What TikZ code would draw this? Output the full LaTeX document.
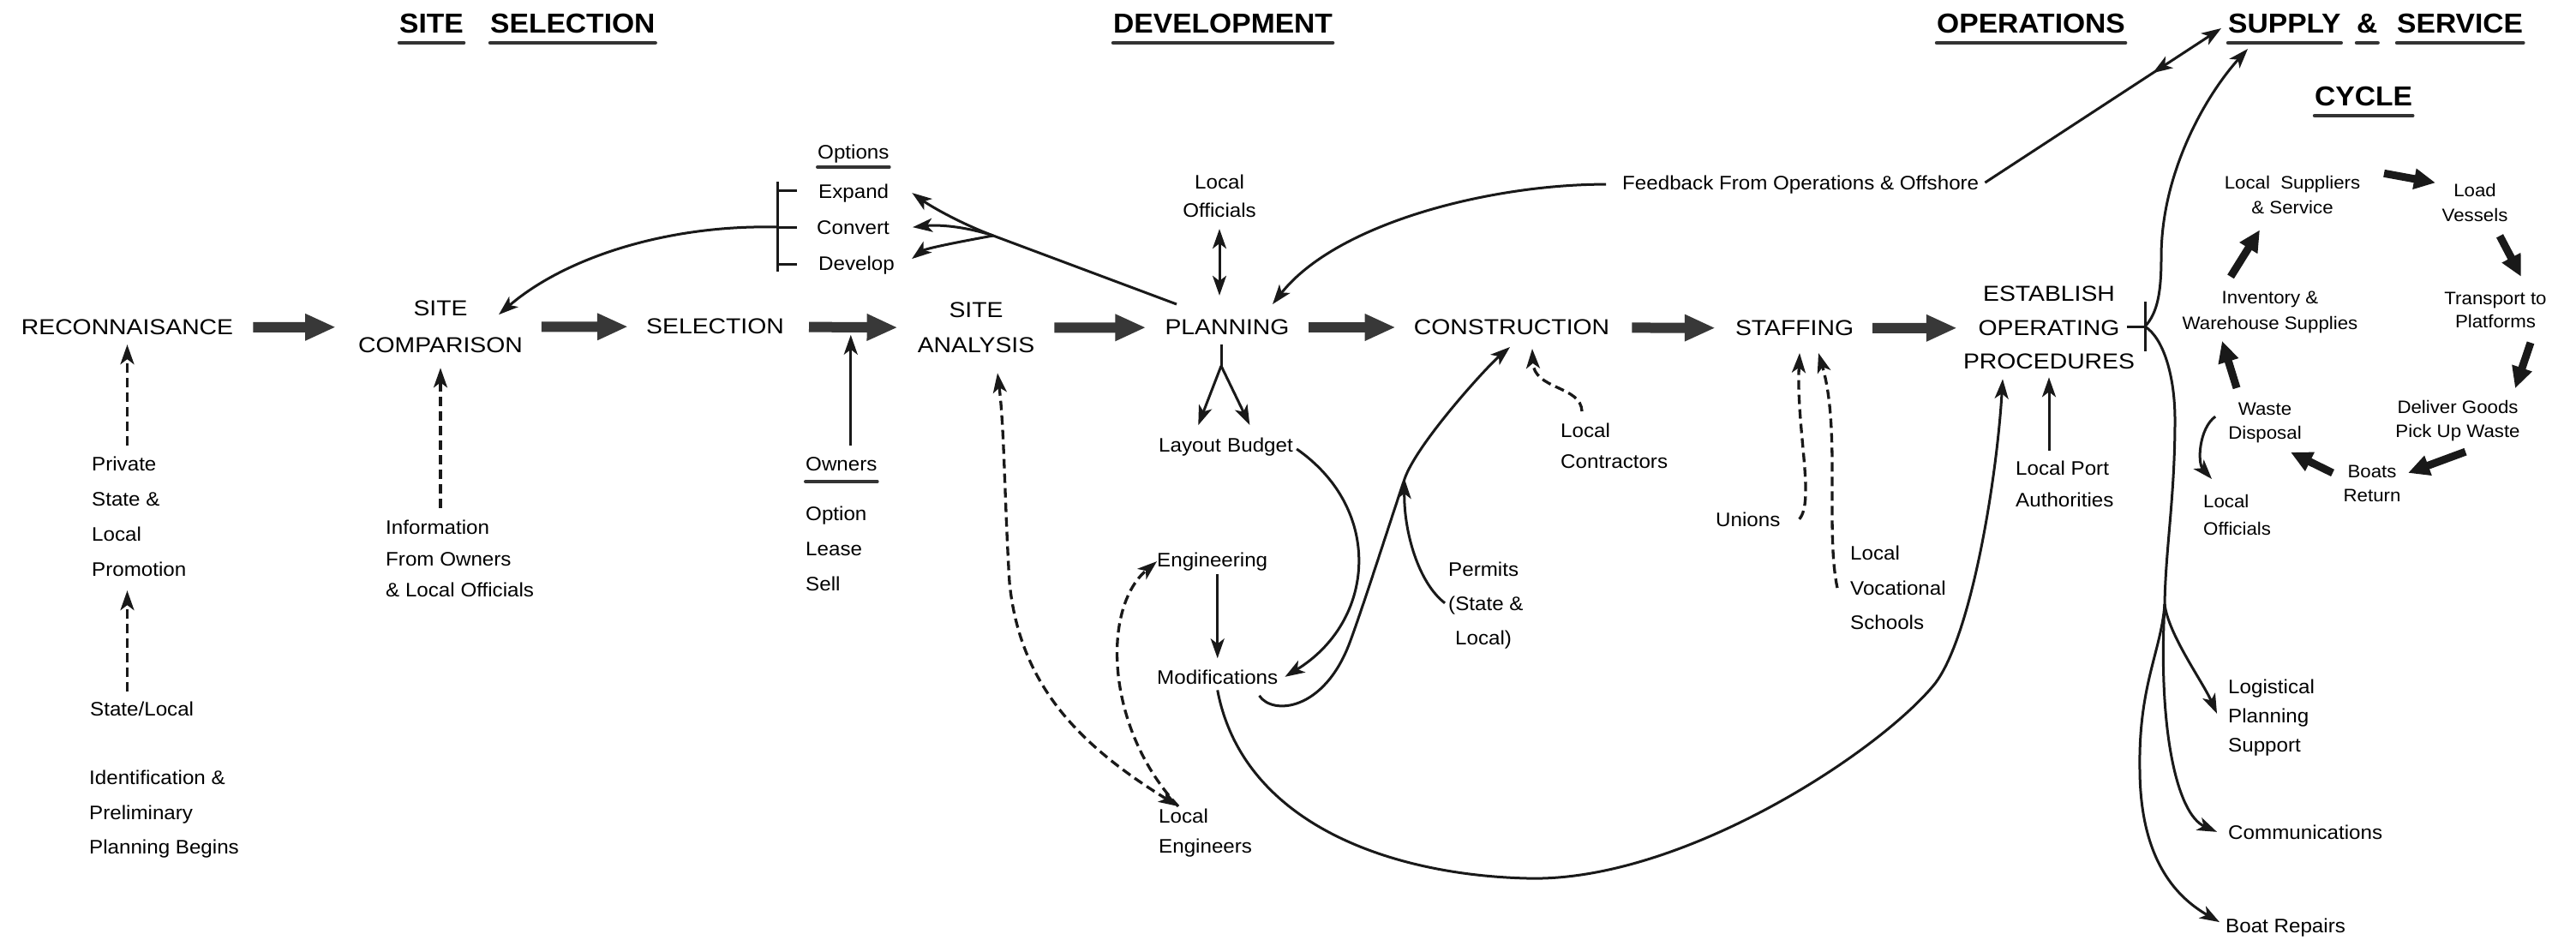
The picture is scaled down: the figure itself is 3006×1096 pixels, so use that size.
\documentclass[tikz,border=0pt]{standalone}
\usepackage{fontspec}
\setmainfont{Liberation Sans}[FakeStretch=1.06]
\newfontfamily\capsf{Liberation Sans}[FakeStretch=1.12]
\newfontfamily\titlef{Liberation Sans}[FakeStretch=1.05]
\usetikzlibrary{arrows.meta,calc,decorations.markings}
\begin{document}
\begin{tikzpicture}[x=1pt,y=1pt,
  >={Stealth[length=23pt,width=16pt,inset=6pt]},
  ln/.style={line width=3pt, draw=black!90},
  arr/.style={ln, ->},
  darr/.style={ln, <->},
  dsh/.style={ln, line width=3.3pt, dash pattern=on 11pt off 6pt},
  fat/.style={line width=12pt, draw=black!78, -{Triangle[length=36pt,width=29pt]}},
  cyc/.style={line width=9pt, draw=black!90, -{Triangle[length=25pt,width=23pt]}},
  uline/.style={line width=4.5pt, line cap=round, draw=black!80},
  capsn/.style={font=\capsf\fontsize{25.3pt}{#1}\selectfont, inner sep=0pt, align=center},
  capsn/.default=40pt,
  sm/.style={font=\fontsize{22.8pt}{#1}\selectfont, inner sep=0pt, align=left},
  sm/.default=40pt,
  cy/.style={font=\fontsize{21pt}{#1}\selectfont, inner sep=0pt, align=center},
  cy/.default=28pt,
  ttl/.style={font=\titlef\bfseries\fontsize{32pt}{36pt}\selectfont, inner sep=0pt, anchor=base west}
]
\fill[white] (0,0) rectangle (3006,-1096);
\useasboundingbox (0,0) rectangle (3006,-1096);

% titles
\node[ttl] (tSite) at (466,-38.5) {SITE};
\node[ttl] (tSel) at (572,-38.5) {SELECTION};
\node[ttl] (tDev) at (1299,-38.5) {DEVELOPMENT};
\node[ttl] (tOps) at (2260,-38.5) {OPERATIONS};
\node[ttl] (tSup) at (2600,-38.5) {SUPPLY};
\node[ttl] (tAmp) at (2750,-38.5) {\&};
\node[ttl] (tSer) at (2797,-38.5) {SERVICE};
\node[ttl] (tCyc) at (2701,-123.5) {CYCLE};
\foreach \t in {tSite,tSel,tDev,tOps,tSup,tAmp,tSer,tCyc}
  \draw[uline] ([yshift=-11.5pt]\t.base west) -- ([yshift=-11.5pt]\t.base east);

% main stages
\node[capsn] (reco) at (148.5,-382) {RECONNAISANCE};
\node[capsn=43pt, anchor=north] (comp) at (514,-351) {SITE\\COMPARISON};
\node[capsn] (sel) at (834.5,-381) {SELECTION};
\node[capsn=41pt, anchor=north] (ana) at (1139,-353) {SITE\\ANALYSIS};
\node[capsn] (plan) at (1432,-382) {PLANNING};
\node[capsn] (cons) at (1764,-382) {CONSTRUCTION};
\node[capsn] (staff) at (2094,-383) {STAFFING};
\node[capsn=39.5pt, anchor=north] (est) at (2391,-334) {ESTABLISH\\OPERATING\\PROCEDURES};

% small labels
\node[sm=41pt, anchor=north west] (priv) at (107,-533) {Private\\State \&\\Local\\Promotion};
\node[sm, anchor=base west] (stl) at (105,-835) {State/Local};
\node[sm=40.5pt, anchor=north west] (ident) at (104,-899) {Identification \&\\Preliminary\\Planning Begins};
\node[sm=36.5pt, anchor=north west] (info) at (450,-607) {Information\\From Owners\\\& Local Officials};
\node[sm, anchor=base west] (owners) at (940,-549) {Owners};
\node[sm=41pt, anchor=north west] (opt) at (940,-591) {Option\\Lease\\Sell};
\node[sm, anchor=base west] (options) at (954,-185) {Options};
\node[sm, anchor=base west] (expand) at (955,-231) {Expand};
\node[sm, anchor=base west] (convert) at (953,-273) {Convert};
\node[sm, anchor=base west] (develop) at (955,-315) {Develop};
\node[sm=33pt, anchor=north, align=center] (locoff) at (1423,-204) {Local\\Officials};
\node[sm, anchor=base west] (lay) at (1352,-527) {Layout};
\node[sm, anchor=base west] (bud) at (1432,-527) {Budget};
\node[sm, anchor=base west] (eng) at (1350,-661) {Engineering};
\node[sm, anchor=base west] (mod) at (1350,-798) {Modifications};
\node[sm=35pt, anchor=north west] (loceng) at (1352,-944) {Local\\Engineers};
\node[sm=40pt, anchor=north west] (permits) at (1690,-656) {Permits\\(State \&\\\hspace*{8pt}Local)};
\node[sm=36pt, anchor=north west] (loccon) at (1821,-494) {Local\\Contractors};
\node[sm, anchor=base west] (unions) at (2002,-614) {Unions};
\node[sm=40.5pt, anchor=north west] (locvoc) at (2159,-637) {Local\\Vocational\\Schools};
\node[sm=37pt, anchor=north west] (locport) at (2352,-538) {Local Port\\Authorities};
\node[sm, anchor=base west] (feedback) at (1893,-221) {Feedback From Operations \& Offshore};

% cycle
\node[cy=29pt, anchor=north] (locsup) at (2675,-205.5) {Local\ \ Suppliers\\\& Service};
\node[cy=29pt, anchor=north] (load) at (2888,-214.5) {Load\\Vessels};
\node[cy=27.5pt, anchor=north] (transp) at (2912,-340.5) {Transport to\\Platforms};
\node[cy=30pt, anchor=north] (inv) at (2649,-339.5) {Inventory \&\\Warehouse Supplies};
\node[cy=28pt, anchor=north] (waste) at (2643,-469.5) {Waste\\Disposal};
\node[cy=28pt, anchor=north] (deliver) at (2868,-467.5) {Deliver Goods\\Pick Up Waste};
\node[cy=28pt, anchor=north] (boats) at (2768,-542.5) {Boats\\Return};
\node[cy=32pt, anchor=north west, align=left] (locoff2) at (2571,-577) {Local\\Officials};
\node[sm=34pt, anchor=north west] (logis) at (2600,-793) {Logistical\\Planning\\Support};
\node[sm, anchor=base west] (comm) at (2600,-979) {Communications};
\node[sm, anchor=base west] (boatrep) at (2597,-1088) {Boat Repairs};

\draw[uline, line width=4pt] ([yshift=-13pt]owners.base west) -- ([yshift=-13pt]owners.base east);
\draw[uline, line width=4pt] ([yshift=-10pt]options.base west) -- ([yshift=-10pt]options.base east);

% fat main arrows
\draw[fat, shorten <=23pt, shorten >=26pt] (reco) -- (comp);
\draw[fat, shorten <=22pt, shorten >=21pt] (comp) -- (sel);
\draw[fat, shorten <=29pt, shorten >=23pt] (sel) -- (ana);
\draw[fat, shorten <=23pt, shorten >=22pt] (ana) -- (plan);
\draw[fat, shorten <=22pt, shorten >=21pt] (plan) -- (cons);
\draw[fat, shorten <=26pt, shorten >=23pt] (cons) -- (staff);
\draw[fat, shorten <=22pt, shorten >=7pt] (staff) -- (est);

% left side
\draw[dsh, ->, shorten <=13pt, shorten >=11pt] (priv.north -| reco.south) -- (reco.south);
\draw[dsh, ->, shorten <=11pt, shorten >=16pt] (stl.north -| reco.south) -- (priv.south -| reco.south);
\draw[dsh, ->, shorten <=14pt, shorten >=17pt] (info.north -| comp.south) -- (comp.south);
\coordinate (oa) at ($(sel.east)!0.5!(ana.west)$);
\draw[arr, shorten <=13pt, shorten >=9pt] (owners.north -| oa) -- (oa);

% options bracket
\coordinate (brk) at (907,-265);
\draw[ln] (907,-212) -- (907,-317);
\draw[ln] (907,-222) -- (930,-222);
\draw[ln] (brk) -- (930,-265);
\draw[ln] (907,-308) -- (930,-308);
\draw[arr] (brk) .. controls (780,-262) and (660,-300) .. ([xshift=68pt,yshift=14.5pt]comp.center);

% planning to options
\coordinate (pbr) at (1159,-275);
\draw[arr] ([xshift=-59pt,yshift=27pt]plan.center) -- (pbr) .. controls (1119,-260) and (1085,-240) .. ([xshift=27pt]expand.east);
\draw[arr] (pbr) .. controls (1125,-264) and (1095,-262) .. ([xshift=27pt]convert.east);
\draw[arr] (pbr) .. controls (1120,-282) and (1080,-290) .. ([xshift=20pt,yshift=7pt]develop.east);

% local officials
\draw[darr, shorten <=13pt, shorten >=28pt] (locoff.south) -- (locoff.south |- plan.north);

% feedback to planning
\draw[arr, shorten <=19pt] (feedback.west) .. controls (1740,-215) and (1560,-260) .. ([xshift=53pt,yshift=27pt]plan.center);

% planning fork
\coordinate (fork) at (1425,-427);
\draw[ln, shorten <=11pt] (fork |- plan.south) -- (fork);
\draw[arr, shorten >=16pt] (fork) -- (lay);
\draw[arr, shorten >=16pt] (fork) -- (bud);

\draw[arr, shorten <=5pt] (bud.east) .. controls (1615,-595) and (1605,-725) .. ([xshift=8pt]mod.east);
\draw[arr, shorten <=4pt, shorten >=13pt] (eng.south -| mod.north) -- (mod.north);

% local engineers
\draw[dsh, <->] ([xshift=23pt,yshift=3pt]loceng.north west) .. controls (1260,-870) and (1190,-800) .. (1178,-680) .. controls (1172,-580) and (1172,-500) .. ([xshift=25pt,yshift=-23pt]ana.south);
\draw[dsh, ->] ([xshift=23pt,yshift=3pt]loceng.north west) .. controls (1290,-850) and (1285,-710) .. (eng.west);

% modifications to construction, permits
\coordinate (pj) at (1639,-559);
\draw[arr] ([xshift=-22pt,yshift=-22pt]mod.east) .. controls (1485,-835) and (1545,-830) .. (1575,-750) .. controls (1590,-710) and (1625,-600) .. (pj) .. controls (1653,-518) and (1735,-428) .. ([xshift=-2pt,yshift=-23pt]cons.center);
\draw[arr, shorten <=5pt] (permits.west) .. controls (1655,-680) and (1638,-620) .. (pj);
\draw[dsh, ->] ([xshift=25pt,yshift=14pt]loccon.north west) .. controls (1845,-450) and (1790,-455) .. ([xshift=24pt,yshift=-25pt]cons.center);

% modifications to establish
\draw[arr] ([yshift=-7pt]mod.south) .. controls (1450,-960) and (1620,-1021) .. (1782,-1025) .. controls (1960,-1030) and (2190,-880) .. (2257,-799) .. controls (2300,-745) and (2330,-560) .. ([xshift=-54pt,yshift=-11pt]est.south);
\draw[arr, shorten <=12pt, shorten >=9pt] (locport.north -| est.south) -- (est.south);

% staffing
\draw[dsh, ->] ([xshift=22pt]unions.east) .. controls (2118,-585) and (2096,-500) .. ([xshift=6pt,yshift=-29pt]staff.center);
\draw[dsh, ->] ([xshift=-15pt]locvoc.west) .. controls (2130,-620) and (2148,-500) .. ([xshift=28pt,yshift=-29pt]staff.center);

% establish bracket and streams
\coordinate (ebr) at (2503,-381);
\draw[ln] (2503,-352) -- (2503,-410);
\draw[ln] (2482,-381) -- (ebr);
\draw[arr] (ebr) .. controls (2518,-365) and (2522,-340) .. (2522,-300) .. controls (2522,-200) and (2575,-110) .. ([xshift=23pt,yshift=-18.5pt]tSup.base west);
\coordinate (tr) at (2526,-705);
\draw[ln] (ebr) .. controls (2525,-395) and (2538,-440) .. (2538,-490) .. controls (2538,-580) and (2527,-640) .. (tr);
\draw[arr] (tr) .. controls (2530,-740) and (2570,-795) .. ([xshift=-13pt,yshift=5pt]logis.west);
\draw[arr] (tr) .. controls (2518,-850) and (2540,-950) .. ([xshift=-13pt]comm.west);
\draw[arr] (tr) .. controls (2522,-760) and (2495,-800) .. (2497,-900) .. controls (2498,-1010) and (2545,-1050) .. ([xshift=-7pt,yshift=6pt]boatrep.west);

% feedback <-> supply
\draw[arr, postaction={decorate}, decoration={markings, mark=at position 0.71 with {\arrowreversed{Stealth[length=23pt,width=16pt,inset=6pt]}}}] ([xshift=7pt,yshift=2pt]feedback.east) -- ([xshift=-8pt,yshift=5.5pt]tSup.base west);

% cycle arrows
\draw[cyc] ([xshift=107pt,yshift=25.6pt]locsup.center) -- ([xshift=-46pt,yshift=23.6pt]load.center);
\draw[cyc] ([xshift=29pt,yshift=-38.4pt]load.center) -- ([xshift=30pt,yshift=38.9pt]transp.center);
\draw[cyc] ([xshift=41pt,yshift=-38.1pt]transp.center) -- ([xshift=67pt,yshift=38.3pt]deliver.center);
\draw[cyc] ([xshift=9pt,yshift=-35.7pt]deliver.center) -- ([xshift=42pt,yshift=12.1pt]boats.center);
\draw[cyc] ([xshift=-46pt,yshift=12.1pt]boats.center) -- ([xshift=30pt,yshift=-34.7pt]waste.center);
\draw[cyc] ([xshift=-33pt,yshift=40.3pt]waste.center) -- ([xshift=-56pt,yshift=-33.7pt]inv.center);
\draw[cyc] ([xshift=-46pt,yshift=41.3pt]inv.center) -- ([xshift=-38pt,yshift=-40.4pt]locsup.center);
\draw[arr] ([xshift=-15pt,yshift=7pt]waste.west) .. controls (2566,-500) and (2564,-540) .. ([xshift=10pt,yshift=18pt]locoff2.north west);
\end{tikzpicture}
\end{document}
